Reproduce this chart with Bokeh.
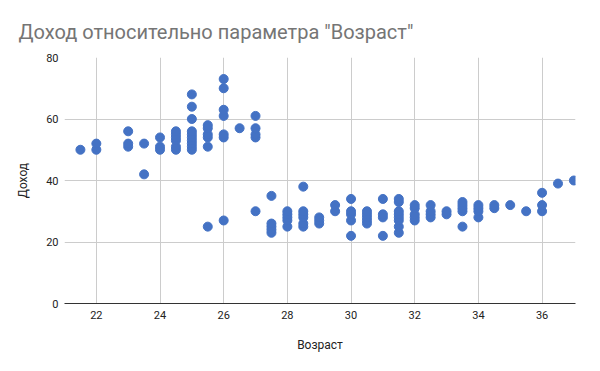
from bokeh.plotting import figure
from bokeh.embed import file_html
from bokeh.resources import INLINE
from bokeh.models import Range1d, FixedTicker, ColumnDataSource

# Data: (age, income)
age_groups = [21.5, 22, 23, 23.5, 24, 24.5, 25, 25.5, 26, 26.5, 27, 27.5, 28, 28.5,
              29, 29.5, 30, 30.5, 31, 31.5, 32, 32.5, 33, 33.5, 34, 34.5, 35, 35.5,
              36, 36.5, 37]
income_groups = [
    [50],
    [50, 52],
    [51, 52, 56],
    [52, 42],
    [50, 51, 54],
    [50, 51, 53, 54, 55, 56],
    [50, 51, 52, 53, 54, 55, 56, 60, 64, 68],
    [51, 54, 55, 57, 58, 25],
    [27, 54, 55, 61, 63, 70, 73],
    [57],
    [54, 55, 57, 61, 30],
    [35, 23, 24, 25, 26],
    [25, 27, 28, 29, 30],
    [25, 26, 28, 29, 30, 38],
    [26, 27, 28],
    [30, 32],
    [22, 27, 29, 30, 34],
    [26, 27, 28, 29, 30],
    [22, 28, 29, 34],
    [23, 25, 27, 28, 29, 30, 33, 34],
    [27, 28, 29, 31, 32],
    [28, 29, 30, 32],
    [29, 30],
    [25, 30, 31, 32, 33],
    [28, 30, 31, 32],
    [31, 32],
    [32],
    [30],
    [30, 32, 36],
    [39],
    [40],
]
x_ticks = [22, 24, 26, 28, 30, 32, 34, 36]
y_ticks = [0, 20, 40, 60, 80]

ages = []
incomes = []
for a, vals in zip(age_groups, income_groups):
    for v in vals:
        ages.append(a)
        incomes.append(v)

src = ColumnDataSource(dict(x=ages, y=incomes))

p = figure(width=584, height=355, output_backend="svg", toolbar_location=None,
           x_range=Range1d(21.0, 37.05), y_range=Range1d(0, 80),
           min_border_left=64, min_border_right=9, min_border_bottom=52,
           min_border_top=57)

p.title.text = 'Доход относительно параметра "Возраст"'
p.title.text_font = "Roboto"
p.title.text_font_size = "20px"
p.title.text_font_style = "normal"
p.title.text_color = "#757575"
p.title.align = "left"
p.title.offset = -46
p.title.standoff = 28

p.scatter("x", "y", source=src, size=9, color="#4472C4", line_color="#4472C4")

p.outline_line_color = None
p.background_fill_color = "white"
p.border_fill_color = "white"

p.xaxis.ticker = FixedTicker(ticks=x_ticks)
p.yaxis.ticker = FixedTicker(ticks=y_ticks)
p.xgrid.ticker = FixedTicker(ticks=x_ticks)
p.ygrid.ticker = FixedTicker(ticks=y_ticks)
p.xgrid.grid_line_color = "#cccccc"
p.ygrid.grid_line_color = "#cccccc"

for ax in (p.xaxis, p.yaxis):
    ax.major_tick_line_color = None
    ax.minor_tick_line_color = None
    ax.major_label_text_font = "Roboto"
    ax.major_label_text_font_size = "11px"
    ax.major_label_text_color = "#222222"
    ax.axis_label_text_font = "Roboto"
    ax.axis_label_text_font_size = "12px"
    ax.axis_label_text_font_style = "normal"
    ax.axis_label_text_color = "#222222"

p.xaxis.axis_line_color = "#333333"
p.xaxis.axis_line_width = 1
p.yaxis.axis_line_color = None
p.xaxis.axis_label = "Возраст"
p.yaxis.axis_label = "Доход"
p.xaxis.major_label_standoff = 1
p.xaxis.axis_label_standoff = 16
p.yaxis.major_label_standoff = 0
p.yaxis.axis_label_standoff = 13

open("out.html", "w").write(file_html(p, INLINE))
